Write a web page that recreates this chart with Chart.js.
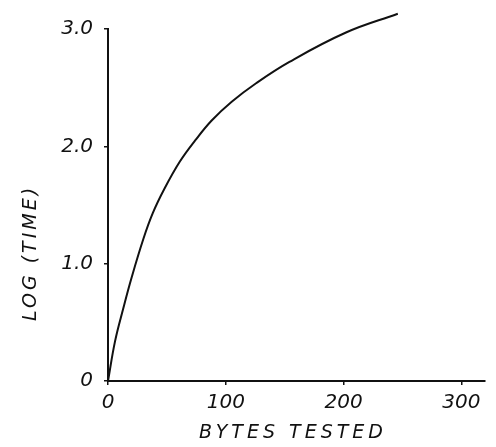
<!DOCTYPE html>
<html>
<head>
<meta charset="utf-8">
<script src="https://cdn.jsdelivr.net/npm/chart.js@4/dist/chart.umd.min.js"></script>
<style>
  body { margin: 0; background: #fff; }
  canvas { display: block; }
</style>
</head>
<body>
<canvas id="myChart" width="496" height="447"></canvas>
<script>
// values
const bytesTested = [0, 6, 13, 20, 30, 38, 48, 61, 74, 88, 105, 126, 154, 202, 246];
const logTime = [0, 0.34, 0.62, 0.88, 1.21, 1.43, 1.64, 1.87, 2.05, 2.22, 2.38, 2.54, 2.72, 2.97, 3.13];

const xTicks = [0, 100, 200, 300];
const yTicks = [0, 1, 2, 3];
const yTickLabels = ['0', '1.0', '2.0', '3.0'];
const xTitle = 'BYTES TESTED';
const yTitle = 'LOG (TIME)';

const labelFont = { family: '"DejaVu Sans"', size: 20, style: 'italic' };
const ink = '#111';

// hand lettered axis titles, spaced out a bit
const axisTitles = {
    id: 'axisTitles',
    afterDraw(chart) {
        const ctx = chart.ctx;
        const area = chart.chartArea;
        ctx.save();
        ctx.fillStyle = ink;
        ctx.font = 'italic 19px "DejaVu Sans"';
        ctx.textAlign = 'center';
        ctx.textBaseline = 'middle';
        ctx.letterSpacing = '4px';
        ctx.fillText(xTitle, area.left + 185, area.bottom + 52);
        ctx.translate(31, area.bottom - 128);
        ctx.rotate(-Math.PI / 2);
        ctx.letterSpacing = '3px';
        ctx.fillText(yTitle, 0, 0);
        ctx.restore();
    }
};

const ctx = document.getElementById('myChart');
new Chart(ctx, {
    type: 'line',
    data: {
        datasets: [{
            data: bytesTested.map((x, i) => ({ x: x, y: logTime[i] })),
            borderColor: ink,
            borderWidth: 2,
            pointRadius: 0,
            tension: 0.4,
            clip: false
        }]
    },
    options: {
        responsive: false,
        animation: false,
        layout: { padding: { top: 29, right: 11, left: 0, bottom: 0 } },
        plugins: {
            legend: { display: false },
            tooltip: { enabled: false }
        },
        scales: {
            x: {
                type: 'linear',
                min: 0,
                max: 320,
                afterBuildTicks: scale => { scale.ticks = xTicks.map(v => ({ value: v })); },
                afterFit: scale => { scale.height = 66; },
                border: { color: ink, width: 2 },
                grid: { drawOnChartArea: false, drawTicks: true, tickLength: 4, color: ink, lineWidth: 1.5 },
                ticks: { color: ink, font: labelFont, padding: 6, maxRotation: 0 }
            },
            y: {
                type: 'linear',
                min: 0,
                max: 3,
                afterBuildTicks: scale => { scale.ticks = yTicks.map(v => ({ value: v })); },
                afterFit: scale => { scale.width = 108; },
                border: { color: ink, width: 2 },
                grid: { drawOnChartArea: false, drawTicks: true, tickLength: 4, color: ink, lineWidth: 1.5 },
                ticks: {
                    color: ink,
                    font: labelFont,
                    padding: 11,
                    callback: (v) => yTickLabels[yTicks.indexOf(v)]
                }
            }
        }
    },
    plugins: [axisTitles]
});
</script>
</body>
</html>
